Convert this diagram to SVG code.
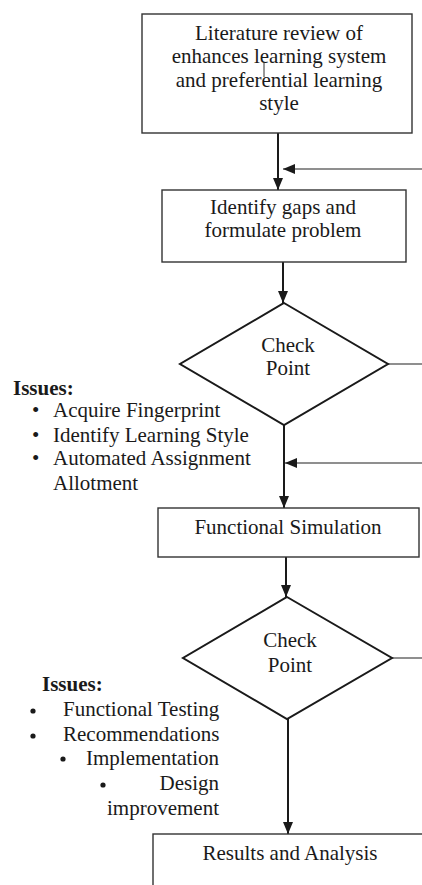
<svg xmlns="http://www.w3.org/2000/svg" width="422" height="885" viewBox="0 0 422 885">
  <style>
    .box { fill: #ffffff; stroke: #333333; stroke-width: 1.4; }
    .dia { fill: #ffffff; stroke: #1a1a1a; stroke-width: 2; }
    .txt { font-family: "Liberation Serif", "Times New Roman", serif; font-size: 21px; fill: #1a1a1a; }
    .mid { text-anchor: middle; }
    .end { text-anchor: end; }
    .bold { font-weight: bold; }
    .flow { stroke: #1a1a1a; stroke-width: 2; fill: none; }
    .back { stroke: #6a6a6a; stroke-width: 1.5; fill: none; }
    .head { fill: #1a1a1a; }
  </style>
  <defs>
    <marker id="arrow" viewBox="0 0 12 10" refX="12" refY="5" markerWidth="12" markerHeight="10" markerUnits="userSpaceOnUse" orient="auto">
      <path d="M0,0 L12,5 L0,10 Z" class="head"/>
    </marker>
  </defs>

  <rect x="0" y="0" width="422" height="885" fill="#ffffff"/>

  <!-- connectors -->
  <g id="connectors">
    <line class="flow" x1="278" y1="133" x2="278" y2="190" marker-end="url(#arrow)"/>
    <line class="back" x1="422" y1="169" x2="283" y2="169" marker-end="url(#arrow)"/>
    <line class="flow" x1="283" y1="262" x2="283" y2="303" marker-end="url(#arrow)"/>
    <line class="back" x1="388" y1="364" x2="422" y2="364"/>
    <line class="flow" x1="284" y1="425" x2="284" y2="508" marker-end="url(#arrow)"/>
    <line class="back" x1="422" y1="463" x2="285" y2="463" marker-end="url(#arrow)"/>
    <line class="flow" x1="286" y1="557" x2="286" y2="597" marker-end="url(#arrow)"/>
    <line class="back" x1="392" y1="658" x2="422" y2="658"/>
    <line class="flow" x1="288" y1="719" x2="288" y2="834" marker-end="url(#arrow)"/>
  </g>

  <!-- literature review -->
  <g id="literature">
    <rect class="box" x="142" y="14" width="270" height="119"/>
    <text class="txt mid" x="279" y="40">Literature review of</text>
    <text class="txt mid" x="279" y="63">enhances learning system</text>
    <text class="txt mid" x="279" y="87">and preferential learning</text>
    <text class="txt mid" x="279" y="110">style</text>
    <line x1="264" y1="62" x2="264" y2="77" stroke="#333333" stroke-width="1"/>
  </g>

  <!-- identify gaps -->
  <g id="identify">
    <rect class="box" x="162" y="190" width="244" height="72"/>
    <text class="txt mid" x="283" y="214">Identify gaps and</text>
    <text class="txt mid" x="283" y="237">formulate problem</text>
  </g>

  <!-- first check point -->
  <g id="check1">
    <polygon class="dia" points="284,303 388,364 284,425 180,364"/>
    <text class="txt mid" x="288" y="352">Check</text>
    <text class="txt mid" x="288" y="375">Point</text>
  </g>

  <!-- first issue list -->
  <g id="issues1">
    <text class="txt bold" x="13" y="395">Issues:</text>
    <text class="txt" x="32" y="417">•</text>
    <text class="txt" x="53" y="417">Acquire Fingerprint</text>
    <text class="txt" x="32" y="442">•</text>
    <text class="txt" x="53" y="442">Identify Learning Style</text>
    <text class="txt" x="32" y="465">•</text>
    <text class="txt" x="53" y="465">Automated Assignment</text>
    <text class="txt" x="53" y="490">Allotment</text>
  </g>

  <!-- functional simulation -->
  <g id="simulation">
    <rect class="box" x="158" y="508" width="261" height="49"/>
    <text class="txt mid" x="288" y="534">Functional Simulation</text>
  </g>

  <!-- second check point -->
  <g id="check2">
    <polygon class="dia" points="287,597 392,658 287,719 183,658"/>
    <text class="txt mid" x="290" y="647">Check</text>
    <text class="txt mid" x="290" y="672">Point</text>
  </g>

  <!-- second issue list -->
  <g id="issues2">
    <text class="txt bold" x="42" y="691">Issues:</text>
    <circle cx="33" cy="711" r="2.6" class="head"/>
    <text class="txt" x="63" y="716">Functional Testing</text>
    <circle cx="33" cy="736" r="2.6" class="head"/>
    <text class="txt" x="63" y="741">Recommendations</text>
    <circle cx="63" cy="759" r="2.6" class="head"/>
    <text class="txt end" x="219" y="765">Implementation</text>
    <circle cx="103" cy="785" r="2.6" class="head"/>
    <text class="txt end" x="219" y="790">Design</text>
    <text class="txt end" x="219" y="815">improvement</text>
  </g>

  <!-- results -->
  <g id="results">
    <rect class="box" x="153" y="834" width="300" height="80"/>
    <text class="txt mid" x="290" y="860">Results and Analysis</text>
  </g>
</svg>
